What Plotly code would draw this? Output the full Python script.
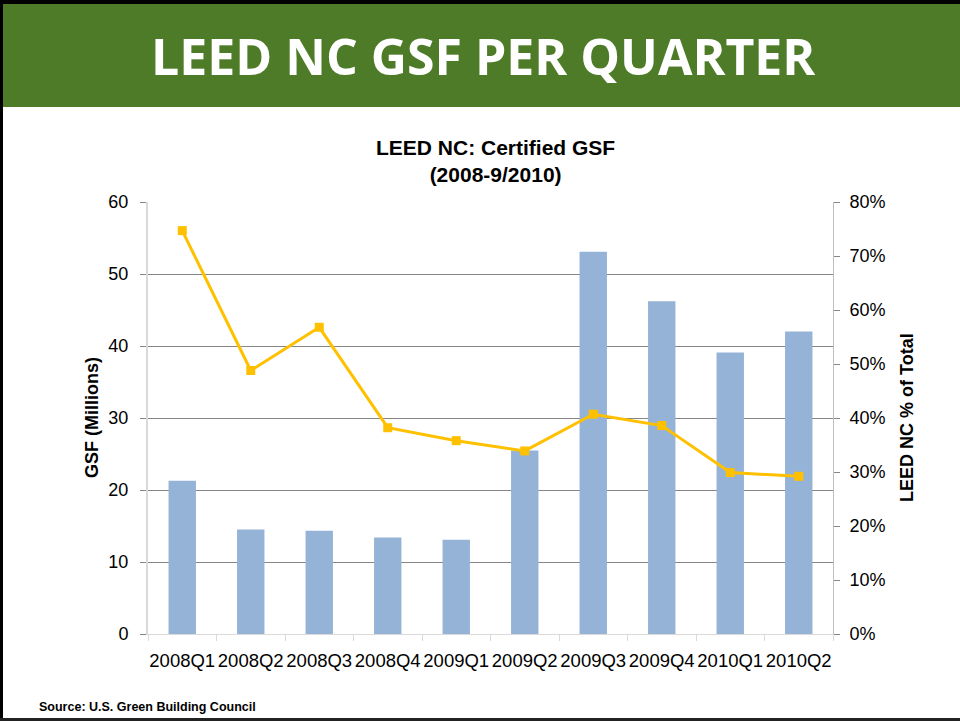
import plotly.graph_objects as go

quarters = ["2008Q1", "2008Q2", "2008Q3", "2008Q4", "2009Q1",
            "2009Q2", "2009Q3", "2009Q4", "2010Q1", "2010Q2"]
gsf_millions = [21.3, 14.5, 14.35, 13.4, 13.1, 25.5, 53.1, 46.2, 39.1, 42.0]
pct_of_total = [0.747, 0.488, 0.568, 0.382, 0.358, 0.339, 0.407, 0.386, 0.299, 0.292]

left_ticks = [0, 10, 20, 30, 40, 50, 60]
right_ticks = [0, 0.1, 0.2, 0.3, 0.4, 0.5, 0.6, 0.7, 0.8]

W, H = 960, 721
L, R, T, B = 148, 833, 202, 634


def px(x):
    return (x - L) / (R - L)


def py(y):
    return (B - y) / (B - T)


fig = go.Figure()
fig.add_trace(go.Bar(
    x=quarters, y=gsf_millions, width=0.4,
    marker=dict(color="#95B3D7", line=dict(width=0)),
    name="GSF", showlegend=False,
))
fig.add_trace(go.Scatter(
    x=quarters, y=pct_of_total, yaxis="y2", mode="lines+markers",
    line=dict(color="#FFC000", width=3),
    marker=dict(symbol="square", size=9, color="#FFC000"),
    name="% of Total", showlegend=False,
))

axis_font = dict(family="Liberation Sans, Arial, sans-serif", size=18, color="#000000")
xtick_font = dict(family="Liberation Sans, Arial, sans-serif", size=18.5, color="#000000")

shapes = [
    # green banner
    dict(type="rect", xref="paper", yref="paper", x0=px(0), x1=px(W), y0=py(107), y1=py(0),
         fillcolor="#4E7B27", line=dict(width=0), layer="below"),
    # black frame pieces
    dict(type="rect", xref="paper", yref="paper", x0=px(0), x1=px(W), y0=py(4), y1=py(0),
         fillcolor="#000000", line=dict(width=0)),
    dict(type="rect", xref="paper", yref="paper", x0=px(0), x1=px(3), y0=py(H), y1=py(0),
         fillcolor="#000000", line=dict(width=0)),
    dict(type="rect", xref="paper", yref="paper", x0=px(0), x1=px(W), y0=py(H), y1=py(718),
         fillcolor="#222222", line=dict(width=0)),
]

annotations = [
    dict(text="<b>LEED NC GSF PER QUARTER</b>", xref="paper", yref="paper",
         x=px(483), y=py(56), xanchor="center", yanchor="middle", showarrow=False,
         font=dict(family="Open Sans, sans-serif", size=50, color="#FFFFFF")),
    dict(text="<b>LEED NC: Certified GSF<br>(2008-9/2010)</b>", xref="paper", yref="paper",
         x=px(496), y=py(161), xanchor="center", yanchor="middle", showarrow=False,
         font=dict(family="Liberation Sans, Arial, sans-serif", size=21, color="#000000")),
    dict(text="<b>GSF (Millions)</b>", xref="paper", yref="paper",
         x=px(92), y=py(418), xanchor="center", yanchor="middle", showarrow=False,
         textangle=-90,
         font=dict(family="Liberation Sans, Arial, sans-serif", size=18, color="#000000")),
    dict(text="<b>LEED NC % of Total</b>", xref="paper", yref="paper",
         x=px(907), y=py(418), xanchor="center", yanchor="middle", showarrow=False,
         textangle=-90,
         font=dict(family="Liberation Sans, Arial, sans-serif", size=18, color="#000000")),
    dict(text="<b>Source: U.S. Green Building Council</b>", xref="paper", yref="paper",
         x=px(37), y=py(707), xanchor="left", yanchor="middle", showarrow=False,
         font=dict(family="Liberation Sans, Arial, sans-serif",
                   size=12.5, color="#000000")),
]

fig.update_layout(
    width=W, height=H,
    margin=dict(l=L, r=W - R, t=T, b=H - B, pad=0),
    paper_bgcolor="#FFFFFF", plot_bgcolor="#FFFFFF",
    shapes=shapes, annotations=annotations,
    bargap=0.6,
    xaxis=dict(
        type="category", range=[-0.5, len(quarters) - 0.5], autorange=False,
        tickfont=xtick_font, showgrid=False, tickangle=0,
        showline=True, linecolor="#D9D9D9", linewidth=1,
        ticks="outside", tickson="boundaries", ticklen=6, tickcolor="#D9D9D9",
        ticklabelstandoff=10, zeroline=False, automargin=False,
    ),
    yaxis=dict(
        range=[0, 60], tickvals=left_ticks, tickfont=axis_font,
        showgrid=True, gridcolor="#868686", gridwidth=1,
        showline=True, linecolor="#D9D9D9", linewidth=2,
        ticks="outside", ticklen=6, tickcolor="#868686",
        ticklabelstandoff=8, zeroline=False, automargin=False,
    ),
    yaxis2=dict(
        range=[0, 0.8], tickvals=right_ticks, tickformat=".0%", tickfont=axis_font,
        overlaying="y", side="right", showgrid=False,
        showline=True, linecolor="#BFBFBF", linewidth=1,
        ticks="outside", ticklen=6, tickcolor="#868686",
        ticklabelstandoff=6, zeroline=False, automargin=False,
    ),
)

fig.write_html(
    "out.html",
    config={"displayModeBar": False},
    post_script="document.body.style.margin='0';document.body.style.overflow='hidden';",
)
